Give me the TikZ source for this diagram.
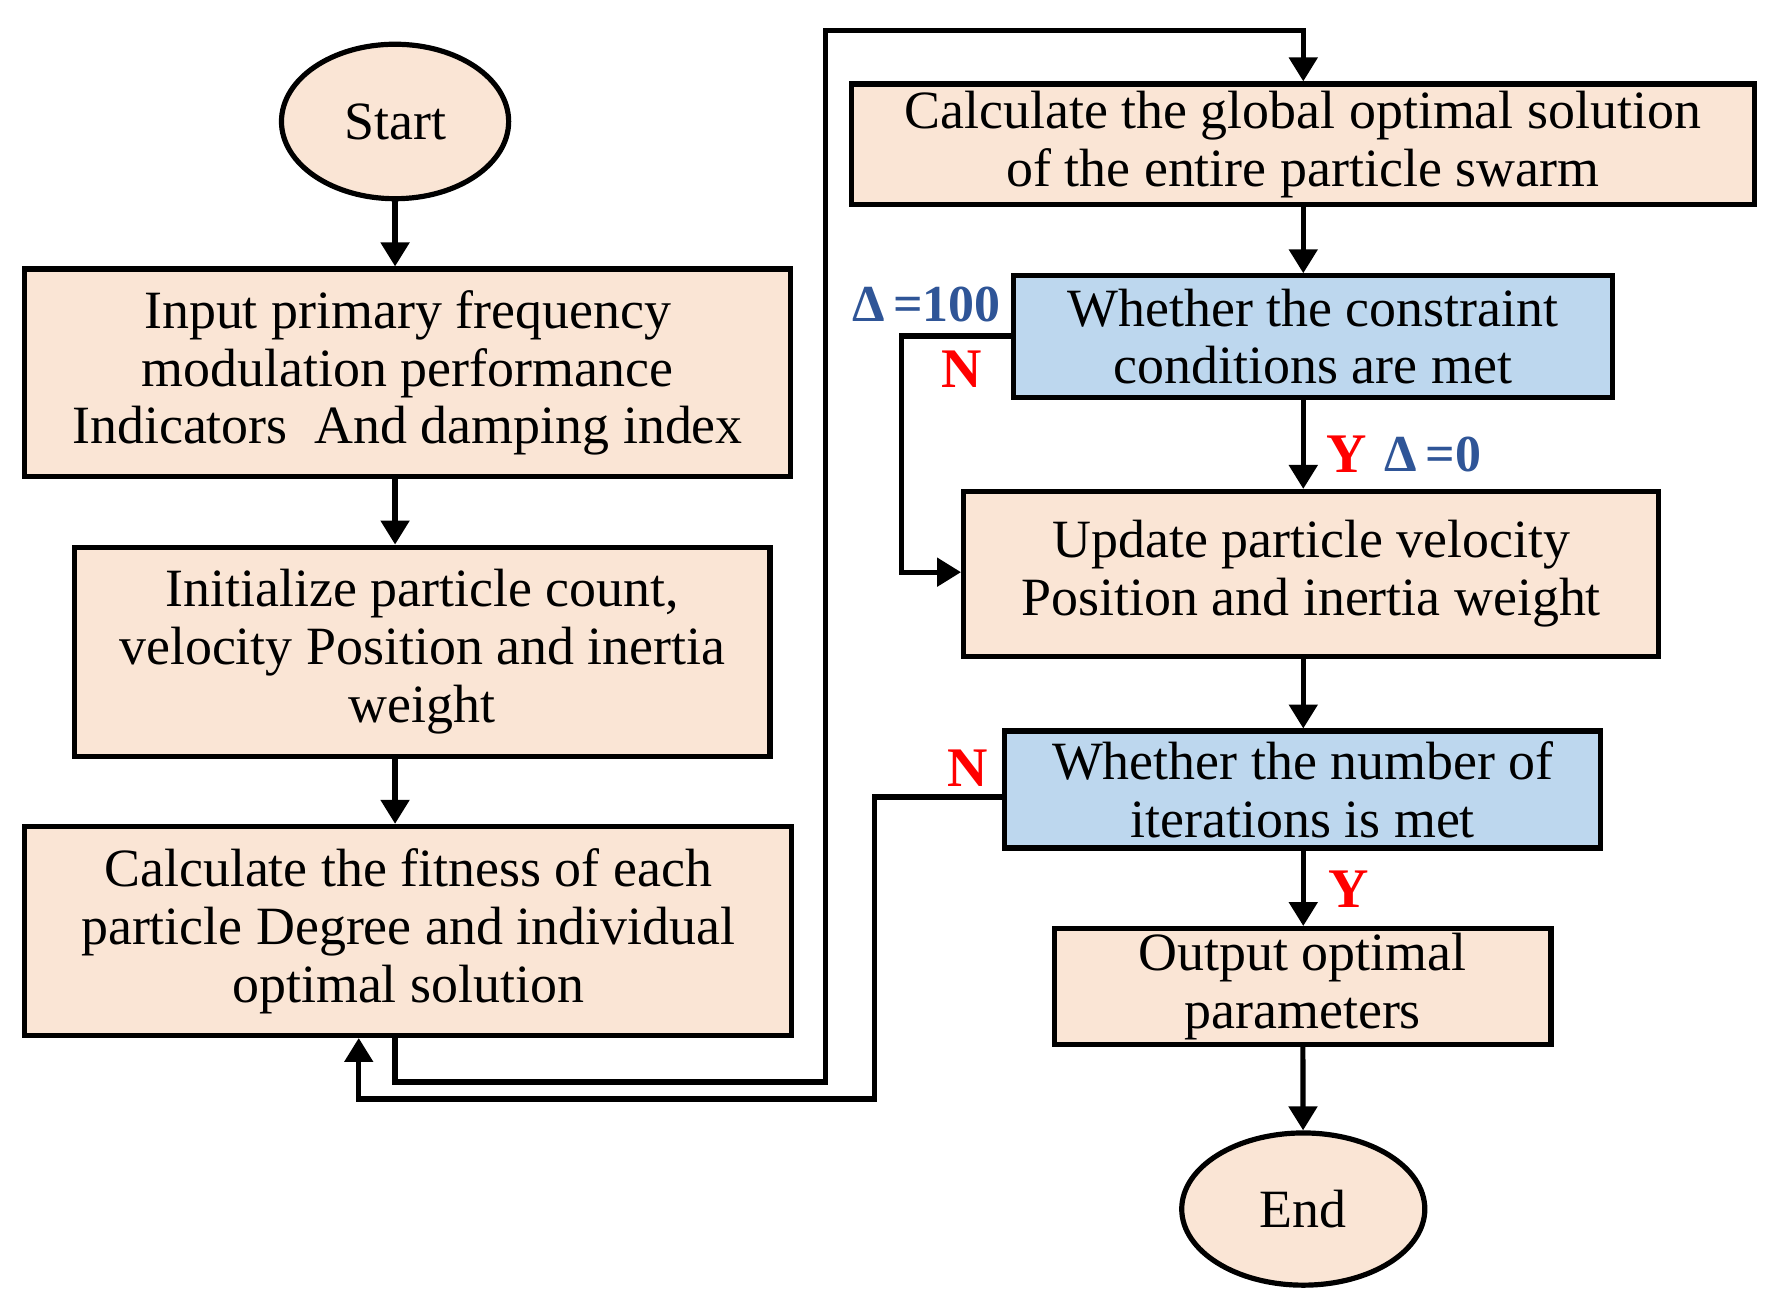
\documentclass[tikz,border=0pt]{standalone}
\usepackage{fontspec}
\setmainfont{Liberation Serif}
\usetikzlibrary{shapes.geometric,arrows.meta}
\definecolor{peach}{HTML}{FAE5D5}
\definecolor{lblue}{HTML}{BDD7EE}
\definecolor{dblue}{HTML}{2F5597}
\begin{document}
\begin{tikzpicture}[x=0.01cm,y=-0.01cm,
  box/.style={draw=black,line width=1.3pt,fill=peach,inner sep=0pt,align=center,font=\fontsize{13.5}{14.5}\selectfont},
  bbox/.style={box,fill=lblue},
  oval/.style={box,ellipse},
  arr/.style={line width=1.3pt,-{Triangle[length=6pt,width=7pt]}},
  red/.style={text=red,font=\bfseries\fontsize{14}{14}\selectfont},
  del/.style={text=dblue,font=\bfseries\fontsize{13}{13}\selectfont}]
\useasboundingbox (0,0) rectangle (1560,1145);
\node[oval,minimum width=2cm,minimum height=1.36cm] (start) at (348,107) {Start};
\node[box,minimum width=6.74cm,minimum height=1.83cm] (b1) at (359,328.5) {Input primary frequency\\modulation performance\\Indicators\ \ And damping index};
\node[box,minimum width=6.12cm,minimum height=1.84cm] (b2) at (372,574) {Initialize particle count,\\velocity Position and inertia\\weight};
\node[box,minimum width=6.75cm,minimum height=1.84cm] (b3) at (359.5,820) {Calculate the fitness of each\\particle Degree and individual\\optimal solution};
\node[box,minimum width=7.95cm,minimum height=1.06cm] (b4) at (1147.5,127) {Calculate the global optimal solution\\of the entire particle swarm};
\node[bbox,minimum width=5.27cm,minimum height=1.07cm] (b5) at (1156.5,296.5) {Whether the constraint\\conditions are met};
\node[box,minimum width=6.12cm,minimum height=1.45cm] (b6) at (1155,505.5) {Update particle velocity\\Position and inertia weight};
\node[bbox,minimum width=5.25cm,minimum height=1.03cm] (b7) at (1147.5,695.5) {Whether the number of\\iterations is met};
\node[box,minimum width=4.37cm,minimum height=1.02cm] (b8) at (1147.5,869) {Output optimal\\parameters};
\node[oval,minimum width=2.14cm,minimum height=1.34cm] (end) at (1148,1065) {End};
\coordinate (c1) at (348,953); \coordinate (c2) at (727,953);
\coordinate (c3) at (727,27); \coordinate (c4) at (1148,27);
\coordinate (d1) at (794,296); \coordinate (d2) at (794,504);
\coordinate (e1) at (770,702); \coordinate (e2) at (770,968); \coordinate (e3) at (316,968);
\draw[arr] (start) -- (b1.north -| start);
\draw[arr] (b1.south -| start) -- (b2.north -| start);
\draw[arr] (b2.south -| start) -- (b3.north -| start);
\draw[arr] (b3.south -| c1) -- (c1) -- (c2) -- (c3) -- (c4) -- (b4.north -| c4);
\draw[arr] (b4.south -| c4) -- (b5.north -| c4);
\draw[arr] (b5.west |- d1) -- (d1) -- (d2) -- (b6.west |- d2);
\draw[arr] (b5.south -| c4) -- (b6.north -| c4);
\draw[arr] (b6.south -| c4) -- (b7.north -| c4);
\draw[arr] (b7.west |- e1) -- (e1) -- (e2) -- (e3) -- (b3.south -| e3);
\draw[arr] (b7.south -| c4) -- (b8.north -| c4);
\draw[arr] (b8) -- (end);
\node[del] (l1) at (816,268) {Δ\,=100};
\node[red] (l2) at (847,325) {N};
\node[red] (l3) at (1186,400) {Y};
\node[del] (l4) at (1262,400) {Δ\,=0};
\node[red] (l5) at (852,677) {N};
\node[red] (l6) at (1188,783) {Y};
\end{tikzpicture}
\end{document}
